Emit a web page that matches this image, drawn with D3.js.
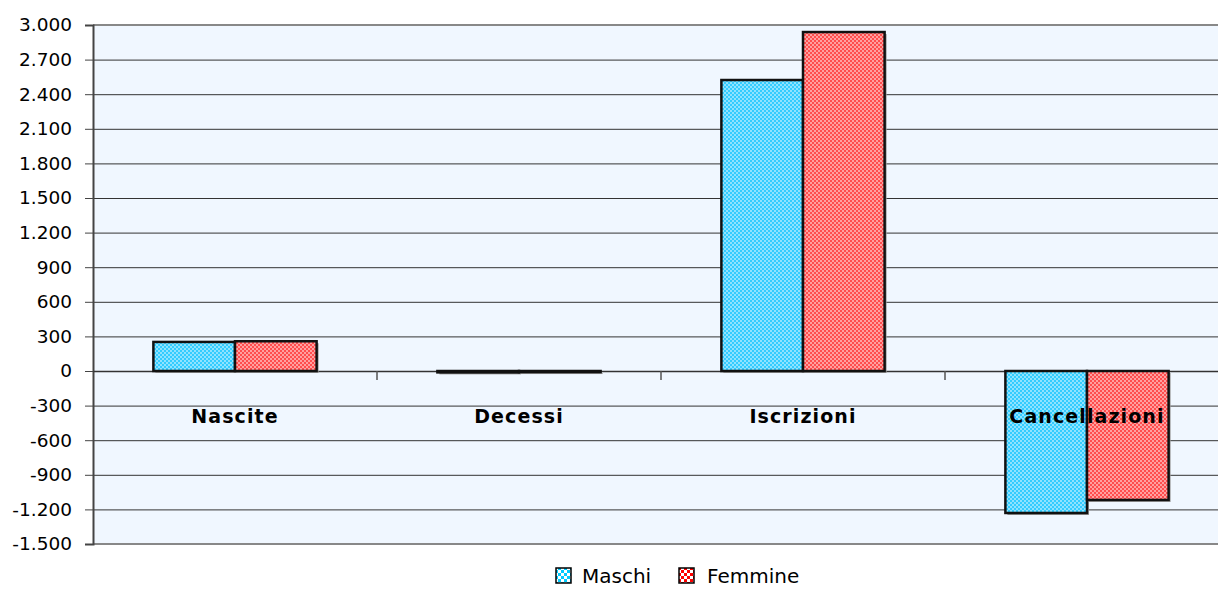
<!DOCTYPE html>
<html><head><meta charset="utf-8">
<script src="https://cdn.jsdelivr.net/npm/d3@7"></script>
<style>body{margin:0;background:#fff}svg{display:block}</style>
</head><body><svg id="c" width="1218" height="590"></svg>
<script>
const categories = ["Nascite","Decessi","Iscrizioni","Cancellazioni"];
const seriesNames = ["Maschi","Femmine"];
const maschi = [252, -12, 2523, -1231];
const femmine = [258, -9, 2939, -1118];
const yTicks = [-1500,-1200,-900,-600,-300,0,300,600,900,1200,1500,1800,2100,2400,2700,3000];

const svg = d3.select("#c");
const L = 93, T = 25, B = 544, R = 1229;
const x = d3.scaleBand().domain(categories).range([L, R]).paddingInner(0).paddingOuter(0);
const y = d3.scaleLinear().domain([-1500, 3000]).range([B, T]);
const inner = d3.scaleBand().domain(seriesNames).range([0, x.bandwidth()]).paddingOuter(0.74).paddingInner(0);

const defs = svg.append("defs");
function pat(id, base, dot, size) {
  const p = defs.append("pattern").attr("id", id).attr("patternUnits","userSpaceOnUse")
    .attr("width", size*2).attr("height", size*2);
  p.append("rect").attr("width", size*2).attr("height", size*2).attr("fill", base);
  p.append("rect").attr("width", size).attr("height", size).attr("fill", dot);
  p.append("rect").attr("x", size).attr("y", size).attr("width", size).attr("height", size).attr("fill", dot);
}
pat("pm", "#33ccff", "#8fe3ff", 2);
pat("pf", "#ff4d4d", "#ffa0a0", 2);
pat("lm", "#00ccff", "#ffffff", 3);
pat("lf", "#ff0000", "#ffffff", 3);

svg.append("rect").attr("x", L).attr("y", T).attr("width", R - L).attr("height", B - T).attr("fill", "#f0f7ff");

// gridlines
svg.append("g").selectAll("line").data(yTicks.filter(d => d !== -1500 && d !== 3000)).join("line")
  .attr("x1", L).attr("x2", R).attr("y1", d => y(d)+0.5).attr("y2", d => y(d)+0.5)
  .attr("stroke", "#333").attr("stroke-width", 1);
svg.append("line").attr("x1", L).attr("x2", R).attr("y1", T).attr("y2", T).attr("stroke", "#888").attr("stroke-width", 2);
svg.append("line").attr("x1", L).attr("x2", R).attr("y1", B).attr("y2", B).attr("stroke", "#888").attr("stroke-width", 2);

// y axis
const yAxis = d3.axisLeft(y).tickValues(yTicks).tickSize(8).tickPadding(13)
  .tickFormat(d => d3.format(",")(d).replace(/,/g, ".").replace("\u2212", "-"));
const ga = svg.append("g").attr("transform", `translate(${L},0)`).call(yAxis);
ga.select(".domain").attr("stroke", "#444").attr("stroke-width", 2);
ga.selectAll(".tick line").attr("stroke", "#444");
ga.selectAll("text").attr("font-family", "DejaVu Sans, Verdana, sans-serif").attr("font-size", 18.5).attr("fill", "#000");

// zero axis with category ticks
const gx = svg.append("g").attr("transform", `translate(0,${y(0)})`)
  .call(d3.axisBottom(x).tickValues([]).tickSizeOuter(0));
gx.select(".domain").attr("stroke", "#333").attr("stroke-width", 1.5);
gx.selectAll("line.ct").data(categories.slice(1)).join("line")
  .attr("x1", d => x(d)).attr("x2", d => x(d)).attr("y1", 0).attr("y2", 9)
  .attr("stroke", "#555").attr("stroke-width", 1.5);

// bars
const data = [];
categories.forEach((c, i) => {
  data.push({c, s: "Maschi", v: maschi[i]});
  data.push({c, s: "Femmine", v: femmine[i]});
});
const bars = svg.append("g");
bars.selectAll("rect.sh").data(data).join("rect")
  .attr("x", d => x(d.c) + inner(d.s) + 2)
  .attr("y", d => Math.min(y(d.v), y(0)) + 2)
  .attr("width", inner.bandwidth())
  .attr("height", d => Math.abs(y(d.v) - y(0)))
  .attr("fill", "#999");
bars.selectAll("rect.b").data(data).join("rect")
  .attr("x", d => x(d.c) + inner(d.s))
  .attr("y", d => Math.min(y(d.v), y(0)))
  .attr("width", inner.bandwidth())
  .attr("height", d => Math.abs(y(d.v) - y(0)))
  .attr("fill", d => d.s === "Maschi" ? "url(#pm)" : "url(#pf)")
  .attr("stroke", "#111").attr("stroke-width", 2.5);

// category labels
svg.append("g").selectAll("text").data(categories).join("text")
  .attr("x", d => x(d) + x.bandwidth()/2).attr("y", 423)
  .attr("text-anchor", "middle").attr("font-family", "Comic Sans MS, DejaVu Sans, sans-serif")
  .attr("font-weight", "bold").attr("font-size", 19).attr("letter-spacing", 1.1).text(d => d);

// legend
const leg = svg.append("g");
const lx = [556, 679];
const tx = [582, 707];
seriesNames.forEach((s, i) => {
  leg.append("rect").attr("x", lx[i]).attr("y", 568).attr("width", 15).attr("height", 15)
    .attr("fill", i === 0 ? "url(#lm)" : "url(#lf)").attr("stroke", "#000").attr("stroke-width", 1.5);
  leg.append("text").attr("x", tx[i]).attr("y", 583)
    .attr("font-family", "Comic Sans MS, DejaVu Sans, sans-serif").attr("font-size", 20).text(s);
});
</script></body></html>
